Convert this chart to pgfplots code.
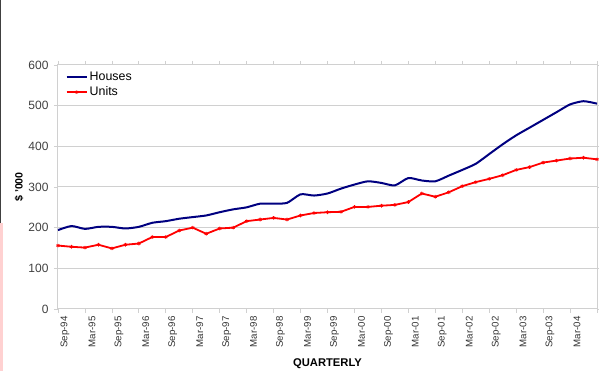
\documentclass[border=0pt]{standalone}
\usepackage{pgfplots}
\pgfplotsset{compat=1.18}
\usepackage{fontspec}
\setmainfont{Liberation Sans}
\usetikzlibrary{plotmarks}

\definecolor{housecol}{RGB}{0,0,128}
\definecolor{unitcol}{RGB}{255,0,0}
\definecolor{gridcol}{RGB}{208,208,208}

\begin{document}
\begin{tikzpicture}[x=1pt,y=1pt]
\begin{axis}[
  name=ax,
  scale only axis,
  width=539pt, height=244pt,
  xmin=0, xmax=40,
  ymin=0, ymax=600,
  ytick={0,100,...,600},
  xtick={0,2,...,40},
  xticklabels={Sep-94,Mar-95,Sep-95,Mar-96,Sep-96,Mar-97,Sep-97,Mar-98,Sep-98,Mar-99,Sep-99,Mar-00,Sep-00,Mar-01,Sep-01,Mar-02,Sep-02,Mar-03,Sep-03,Mar-04,Sep-04},
  x tick label style={rotate=90, anchor=east, font=\fontsize{9.7}{10}\selectfont, text=black!80, yshift=-7pt},
  y tick label style={font=\fontsize{12}{13}\selectfont, text=black!75, xshift=-2pt},
  /pgf/number format/assume math mode=true,
  axis line style={gridcol, line width=1pt},
  tick style={gridcol, line width=0.8pt},
  tick align=outside,
  major tick length=4pt,
  ymajorgrids,
  major grid style={gridcol, line width=1pt},
  xlabel={\bfseries QUARTERLY},
  xlabel style={font=\fontsize{11.2}{12}\selectfont, at={(rel axis cs:0.5,0)}, anchor=center, yshift=-55pt},
  ylabel={\bfseries \$ '000},
  ylabel style={font=\fontsize{10.6}{12}\selectfont, at={(rel axis cs:0,0.5)}, anchor=center, yshift=39pt},
  legend style={draw=none, fill=none, at={(rel axis cs:0.012,0.985)}, anchor=north west,
    font=\fontsize{12.4}{14}\selectfont, row sep=1pt, inner sep=1pt},
  legend cell align=left,
  legend image code/.code={\draw[#1] (0pt,0pt) -- (10pt,0pt) -- (20pt,0pt); \draw[#1, only marks] plot coordinates {(10pt,0pt)};},
]
% Median house price, quarterly
\addplot[housecol, line width=2pt, smooth, tension=0.4, mark=none] coordinates {
 (0,194) (1,204) (2,197) (3,202) (4,202) (5,198) (6,202) (7,212) (8,216) (9,222)
 (10,226) (11,230) (12,238) (13,245) (14,250) (15,259) (16,259) (17,261) (18,282) (19,279)
 (20,284) (21,296) (22,306) (23,314) (24,310) (25,304) (26,322) (27,316) (28,314) (29,328)
 (30,342) (31,357) (32,381) (33,405) (34,427) (35,446) (36,465) (37,484) (38,503) (39,511)
 (40,505)
};
\addlegendentry{Houses}
% Median unit price, quarterly
\addplot[unitcol, line width=1.8pt, mark=asterisk, mark size=1.8pt, mark options={line width=0.8pt}] coordinates {
 (0,156) (1,153) (2,151) (3,158) (4,149) (5,158) (6,161) (7,177) (8,177) (9,193)
 (10,200) (11,185) (12,198) (13,200) (14,216) (15,220) (16,224) (17,220) (18,230) (19,236)
 (20,238) (21,239) (22,251) (23,251) (24,254) (25,256) (26,263) (27,284) (28,276) (29,287)
 (30,302) (31,312) (32,320) (33,329) (34,342) (35,349) (36,360) (37,365) (38,370) (39,372)
 (40,368)
};
\addlegendentry{Units}
\end{axis}
\pgfresetboundingbox
\useasboundingbox ([shift={(-58pt,-62pt)}]ax.south west) rectangle ([shift={(2pt,65pt)}]ax.north east);
% window edge along the left side
\fill[black!75] ([shift={(-58pt,65pt)}]ax.north west) rectangle ([shift={(-56.5pt,-158pt)}]ax.north west);
\fill[red!18] ([shift={(-58pt,-158pt)}]ax.north west) rectangle ([shift={(-55pt,-62pt)}]ax.south west);
\end{tikzpicture}
\end{document}
